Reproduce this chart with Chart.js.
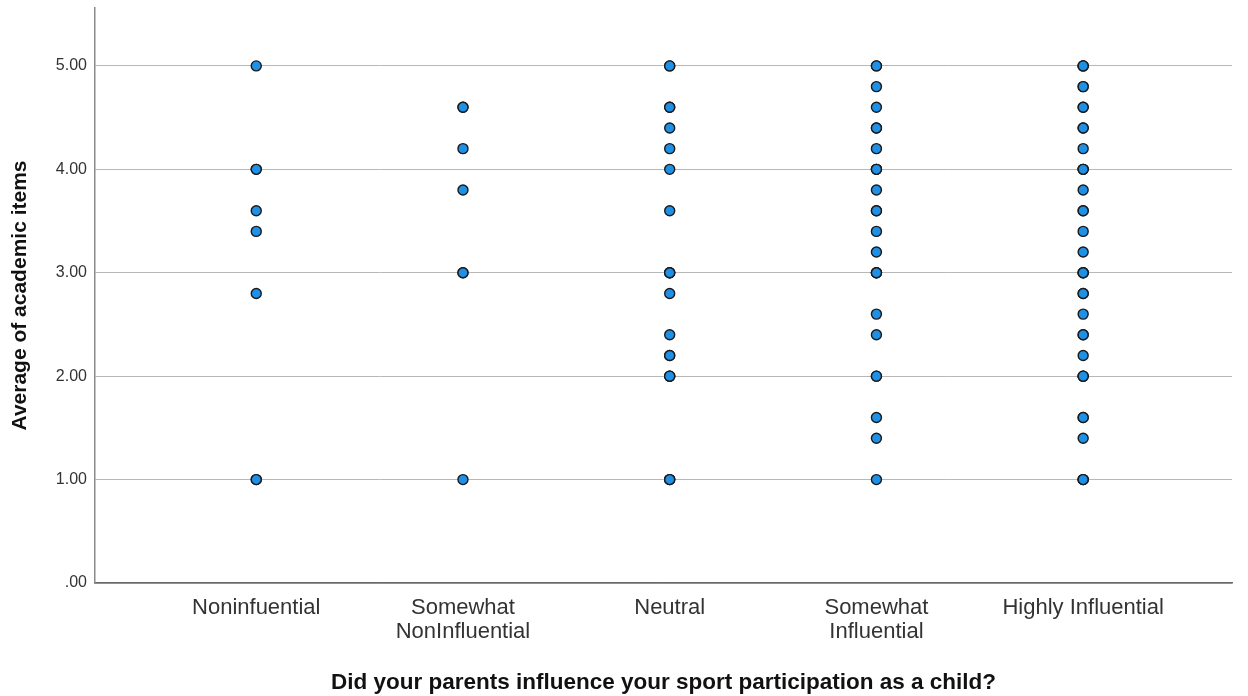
<!DOCTYPE html>
<html>
<head>
<meta charset="utf-8">
<script src="https://cdn.jsdelivr.net/npm/chart.js@4/dist/chart.umd.min.js"></script>
<style>
  html, body { margin: 0; padding: 0; background: #fff; }
  #wrap { width: 1248px; height: 696px; }
</style>
</head>
<body>
<div id="wrap"><canvas id="chart"></canvas></div>
<script>
// categories on the x axis (multi-line labels as arrays)
var categories = [
  ['Noninfuential'],
  ['Somewhat', 'NonInfluential'],
  ['Neutral'],
  ['Somewhat', 'Influential'],
  ['Highly Influential']
];

// values, one list per category (repeats = overlapping points)
var noninfluential = [5.0, 4.0, 4.0, 3.6, 3.4, 2.8, 1.0, 1.0];
var somewhatNon = [4.6, 4.6, 4.2, 3.8, 3.0, 3.0, 1.0];
var neutral = [5.0, 5.0, 4.6, 4.6, 4.4, 4.2, 4.0, 3.6, 3.0, 3.0, 3.0, 2.8, 2.4, 2.2, 2.2, 2.0, 2.0, 2.0, 1.0, 1.0, 1.0];
var somewhatInf = [5.0, 5.0, 4.8, 4.6, 4.4, 4.4, 4.2, 4.0, 4.0, 4.0, 3.8, 3.6, 3.6, 3.4, 3.2, 3.0, 3.0, 3.0, 2.6, 2.4, 2.0, 2.0, 1.6, 1.4, 1.0];
var highlyInf = [5.0, 5.0, 5.0, 4.8, 4.8, 4.6, 4.6, 4.4, 4.4, 4.2, 4.0, 4.0, 4.0, 3.8, 3.6, 3.6, 3.4, 3.2, 3.0, 3.0, 3.0, 2.8, 2.8, 2.6, 2.4, 2.4, 2.2, 2.0, 2.0, 2.0, 1.6, 1.6, 1.4, 1.0, 1.0, 1.0];

var yTicks = [0, 1, 2, 3, 4, 5];

var groups = [noninfluential, somewhatNon, neutral, somewhatInf, highlyInf];
var points = [];
groups.forEach(function (vals, i) {
  vals.forEach(function (v) {
    points.push({ x: i + 1, y: v });
  });
});

var textColor = '#333333';

new Chart(document.getElementById('chart'), {
  type: 'scatter',
  data: {
    datasets: [{
      data: points,
      backgroundColor: '#1e90e6',
      borderColor: '#1a1a1a',
      borderWidth: 1.4,
      pointRadius: 5,
      pointHoverRadius: 5
    }]
  },
  options: {
    responsive: true,
    maintainAspectRatio: false,
    animation: false,
    layout: { padding: { top: 8, right: 16, left: 0, bottom: 0 } },
    plugins: {
      legend: { display: false },
      tooltip: { enabled: false }
    },
    scales: {
      x: {
        type: 'linear',
        min: 0.22,
        max: 5.72,
        afterBuildTicks: function (scale) {
          scale.ticks = categories.map(function (c, i) { return { value: i + 1 }; });
        },
        afterFit: function (scale) {
          scale.height = 113;
          scale.paddingLeft = 0;
          scale.paddingRight = 0;
        },
        grid: { display: false, drawTicks: false },
        border: { display: true, color: '#6a6a6a', width: 1.5 },
        ticks: {
          padding: 13,
          maxRotation: 0,
          autoSkip: false,
          color: textColor,
          font: { family: 'Liberation Sans', size: 22, lineHeight: 1.09 },
          callback: function (value) { return categories[value - 1]; }
        },
        title: {
          display: true,
          text: 'Did your parents influence your sport participation as a child?',
          color: '#111',
          font: { family: 'Liberation Sans', size: 22.5, weight: 'bold' },
          padding: { top: 9, bottom: 0 }
        }
      },
      y: {
        min: 0,
        max: 5.56,
        afterBuildTicks: function (scale) {
          scale.ticks = yTicks.map(function (v) { return { value: v }; });
        },
        afterFit: function (scale) {
          scale.width = 95;
          scale.paddingTop = 0;
          scale.paddingBottom = 0;
        },
        grid: { color: '#b8b8b8', lineWidth: 1, drawTicks: false },
        border: { display: true, color: '#8a8a8a', width: 1.5 },
        ticks: {
          padding: 8,
          color: textColor,
          font: { family: 'Liberation Sans', size: 16 },
          callback: function (value) {
            var s = value.toFixed(2);
            return value === 0 ? '.00' : s;
          }
        },
        title: {
          display: true,
          text: 'Average of academic items',
          color: '#111',
          font: { family: 'Liberation Sans', size: 21, weight: 'bold' },
          padding: { top: 7.5, bottom: 0 }
        }
      }
    }
  }
});
</script>
</body>
</html>
